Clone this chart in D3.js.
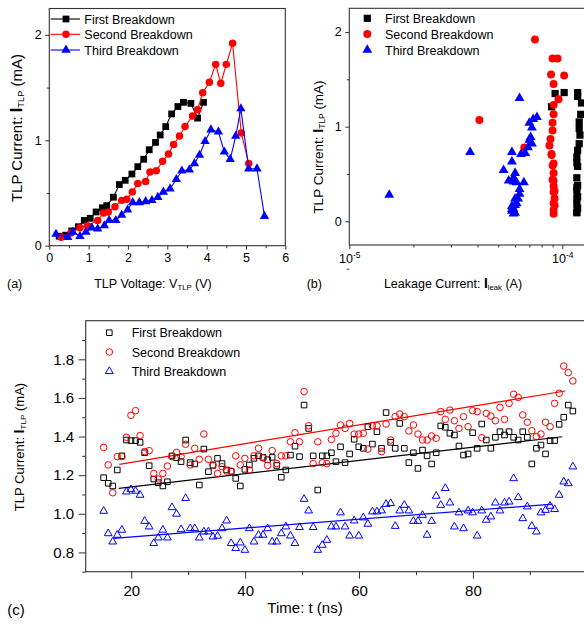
<!DOCTYPE html>
<html><head><meta charset="utf-8">
<script src="https://cdn.jsdelivr.net/npm/d3@7"></script>
<style>
body{margin:0;background:#fff}
svg{display:block}
text{font-family:Arial,"Liberation Sans",sans-serif;fill:#000}
</style></head>
<body><svg id="chart" width="584" height="624"></svg>
<script>
// ---------------- DATA ----------------
const seriesNames = ["First Breakdown", "Second Breakdown", "Third Breakdown"];
const seriesColors = ["#000000", "#ff0000", "#0000ff"];

// Panel (a): TLP I-V, Panel (b): leakage
const vFirst = [0.25,0.42,0.57,0.74,0.89,1.04,1.19,1.35,1.46,1.63,1.78,1.93,2.10,2.25,2.40,2.54,2.70,2.82,2.96,3.11,3.27,3.41,3.60,3.77,3.92];
const iFirst = [0.09,0.10,0.14,0.18,0.24,0.26,0.32,0.36,0.38,0.46,0.58,0.62,0.68,0.75,0.82,0.91,0.98,1.05,1.13,1.25,1.32,1.36,1.35,1.21,1.36];
const leakFirst = [1.17e-4,1.17e-4,1.18e-4,1.17e-4,1.17e-4,1.18e-4,1.17e-4,1.17e-4,1.18e-4,1.17e-4,1.18e-4,1.17e-4,1.17e-4,1.18e-4,1.20e-4,1.21e-4,1.20e-4,1.20e-4,1.22e-4,1.23e-4,1.18e-4,1.18e-4,9.25e-5,8.9e-5,1.02e-4];

const vSecond = [0.30,0.55,0.78,0.97,1.23,1.38,1.50,1.67,1.84,1.97,2.11,2.25,2.45,2.56,2.72,2.88,3.03,3.16,3.31,3.45,3.64,3.77,3.90,4.07,4.23,4.36,4.50,4.66,4.88,5.07];
const iSecond = [0.08,0.12,0.17,0.19,0.24,0.31,0.32,0.37,0.43,0.44,0.51,0.59,0.61,0.70,0.71,0.80,0.87,0.96,1.04,1.13,1.23,1.29,1.45,1.55,1.72,1.54,1.72,1.92,1.07,0.78];
const leakSecond = [9.1e-5,9.1e-5,9.2e-5,9.1e-5,9.2e-5,9.1e-5,9.2e-5,9.1e-5,9.1e-5,9.0e-5,9.1e-5,9.0e-5,9.1e-5,8.9e-5,8.9e-5,8.7e-5,8.8e-5,9.0e-5,9.0e-5,9.1e-5,9.1e-5,9.6e-5,9.1e-5,8.85e-5,9.0e-5,1.02e-4,9.5e-5,7.44e-5,4.08e-5,6.63e-5];

const vThird = [0.17,0.47,0.60,0.78,0.93,1.08,1.23,1.40,1.52,1.69,1.84,1.99,2.12,2.29,2.45,2.61,2.76,2.90,3.07,3.23,3.37,3.56,3.69,3.82,3.96,4.11,4.30,4.45,4.60,4.74,4.87,5.07,5.28,5.47];
const iThird = [0.11,0.08,0.13,0.09,0.13,0.17,0.16,0.19,0.24,0.24,0.29,0.34,0.41,0.41,0.42,0.43,0.46,0.51,0.54,0.63,0.71,0.72,0.78,0.86,0.99,1.10,1.08,0.89,0.82,1.04,1.30,0.73,0.73,0.28];
const leakThird = [5.8e-5,5.9e-5,5.8e-5,6.0e-5,5.9e-5,6.0e-5,5.8e-5,6.1e-5,6.2e-5,6.0e-5,6.3e-5,6.3e-5,6.6e-5,6.1e-5,5.9e-5,5.6e-5,5.9e-5,6.0e-5,5.3e-5,5.8e-5,6.4e-5,6.7e-5,6.9e-5,7.0e-5,7.2e-5,7.6e-5,7.3e-5,7.1e-5,7.2e-5,7.0e-5,6.3e-5,5.8e-5,3.69e-5,1.54e-5];

// Panel (c): TLP current versus time
const timeNs = [15.15,15.95,16.75,17.55,18.35,19.15,19.95,20.75,21.55,22.35,23.15,23.95,24.75,25.55,26.35,27.15,27.95,28.75,29.55,30.35,31.15,31.95,32.75,33.55,34.35,35.15,35.95,36.75,37.55,38.35,39.15,39.95,40.75,41.55,42.35,43.15,43.95,44.75,45.55,46.35,47.15,47.95,48.75,49.55,50.35,51.15,51.95,52.75,53.55,54.35,55.15,55.95,56.75,57.55,58.35,59.15,59.95,60.75,61.55,62.35,63.15,63.95,64.75,65.55,66.35,67.15,67.95,68.75,69.55,70.35,71.15,71.95,72.75,73.55,74.35,75.15,75.95,76.75,77.55,78.35,79.15,79.95,80.75,81.55,82.35,83.15,83.95,84.75,85.55,86.35,87.15,87.95,88.75,89.55,90.35,91.15,91.95,92.75,93.55,94.35,95.15,95.95,96.75,97.55];
const cFirst = [1.187,1.158,1.144,1.227,1.30,1.382,1.379,1.379,1.37,1.316,1.249,1.18,1.161,1.144,1.166,1.30,1.29,1.27,1.382,1.265,1.258,1.149,1.335,1.218,1.25,1.287,1.26,1.227,1.22,1.183,1.144,1.23,1.253,1.287,1.30,1.292,1.28,1.292,1.25,1.189,1.227,1.304,1.35,1.296,1.563,1.442,1.30,1.123,1.30,1.30,
  1.316,1.27,1.347,1.265,1.31,1.386,1.347,1.339,1.451,1.361,1.425,1.339,1.524,1.37,1.339,1.468,1.339,1.265,1.316,1.235,1.33,1.30,1.258,1.316,1.455,1.448,1.417,1.408,1.351,1.304,1.31,1.42,1.339,1.465,1.382,1.339,1.396,1.425,1.408,1.425,1.396,1.382,1.425,1.396,1.258,1.339,1.356,1.31,1.379,1.379,1.463,1.50,1.563,1.532];
const cSecond = [1.344,1.253,1.109,1.296,1.296,1.396,1.51,1.534,1.405,1.322,1.327,1.209,1.18,1.209,1.247,1.296,1.318,1.296,1.36,1.253,1.339,1.282,1.413,1.282,1.253,1.209,1.244,1.221,1.221,1.30,1.253,1.287,1.227,1.30,1.339,1.289,1.25,1.327,1.26,1.30,1.30,1.373,1.42,1.373,1.633,1.456,1.26,1.373,1.264,1.26,
  1.385,1.417,1.46,1.442,1.468,1.413,1.413,1.417,1.335,1.456,1.456,1.322,1.465,1.382,1.503,1.517,1.503,1.429,1.46,1.413,1.382,1.382,1.403,1.391,1.529,1.489,1.537,1.482,1.442,1.503,1.451,1.534,1.529,1.394,1.52,1.506,1.482,1.551,1.489,1.572,1.619,1.603,1.512,1.474,1.43,1.40,1.413,1.474,1.451,1.572,1.624,1.765,1.731,1.688];
const cThird = [1.014,0.898,0.855,0.89,0.916,1.114,1.126,1.118,1.097,0.962,0.933,0.847,0.876,0.916,0.876,1.033,0.999,0.919,1.08,0.924,0.924,0.876,0.907,0.907,0.881,0.885,0.924,0.964,0.847,0.821,0.85,0.812,0.924,0.855,0.89,0.89,0.924,0.855,0.855,0.898,0.933,0.886,0.847,0.93,1.076,1.016,0.93,0.812,0.838,0.864,
  0.933,0.933,1.006,0.933,0.886,0.964,0.886,0.98,0.947,1.011,1.011,1.016,1.05,1.054,0.936,1.016,1.045,1.016,0.962,0.962,0.993,0.89,0.962,1.092,1.045,1.132,1.057,0.933,1.006,0.924,1.016,1.006,0.886,1.016,0.968,0.985,1.057,1.016,1.057,1.062,1.183,1.085,0.976,1.037,0.936,0.907,1.006,1.019,1.04,1.023,1.097,1.166,1.157,1.244];
// linear fit end points [tStart, tEnd], [yStart, yEnd]
const fitT = [[17.8, 95.7], [17.9, 96.2], [16.9, 94.0]];
const fitY = [[1.132, 1.399], [1.256, 1.636], [0.873, 1.050]];

// tick values
const aXTicks = [0,1,2,3,4,5,6];
const aXMinor = [0.5,1.5,2.5,3.5,4.5,5.5];
const aYTicks = [0,1,2];
const aYMinor = [0.5,1.5];
const bXTicks = [1e-5, 1e-4];
const bXMinor = [2e-5,3e-5,4e-5,5e-5,6e-5,7e-5,8e-5,9e-5];
const bYTicks = [0,1,2];
const bYMinor = [-0.5,0.5,1.5];
const cXTicks = [20,40,60,80];
const cXMinor = [30,50,70,90];
const cYTicks = [0.8,1.0,1.2,1.4,1.6,1.8];
const cYMinor = [0.7,0.9,1.1,1.3,1.5,1.7,1.9];

// ---------------- DRAW ----------------
const svg = d3.select("#chart");
const AXC = "#333";

function styleAxis(g, fs) {
  g.select(".domain").remove();
  g.selectAll(".tick line").attr("stroke", AXC).attr("stroke-width", 1);
  g.selectAll(".tick text").attr("font-size", fs).attr("font-family", "Arial, 'Liberation Sans', sans-serif").attr("fill", "#000");
}
function frame(x0, y0, x1, y1) {
  svg.append("rect").attr("x", x0).attr("y", y0).attr("width", x1 - x0).attr("height", y1 - y0)
    .attr("fill", "none").attr("stroke", AXC).attr("stroke-width", 1.1);
}
function titleText(parent, parts, fs) {
  parts.forEach(([t, k]) => {
    const ts = parent.append("tspan").text(t);
    if (k === "b") ts.attr("font-weight", "bold").attr("font-size", fs * 1.1);
    if (k === "s") ts.attr("font-size", fs * 0.62).attr("baseline-shift", "-22%");
  });
}
const shapes = [d3.symbolSquare, d3.symbolCircle, d3.symbolTriangle];

// ===== Panel (a) =====
const ax = d3.scaleLinear().domain([0, 6]).range([49.3, 285.3]);
const ay = d3.scaleLinear().domain([0, 2.25]).range([245.7, 8.5]);
frame(ax.range()[0], ay.range()[1], ax.range()[1], ay.range()[0]);
styleAxis(svg.append("g").attr("transform", `translate(0,${ay(0)})`)
  .call(d3.axisBottom(ax).tickValues(aXTicks).tickSize(4).tickSizeOuter(0).tickPadding(3).tickFormat(d3.format("d"))), 12.5);
styleAxis(svg.append("g").attr("transform", `translate(0,${ay(0)})`)
  .call(d3.axisBottom(ax).tickValues(aXMinor).tickSize(2.5).tickSizeOuter(0).tickFormat("")), 12);
styleAxis(svg.append("g").attr("transform", `translate(${ax(0)},0)`)
  .call(d3.axisLeft(ay).tickValues(aYTicks).tickSize(4).tickSizeOuter(0).tickPadding(3.5).tickFormat(d3.format("d"))), 12.5);
styleAxis(svg.append("g").attr("transform", `translate(${ax(0)},0)`)
  .call(d3.axisLeft(ay).tickValues(aYMinor).tickSize(2.5).tickSizeOuter(0).tickFormat("")), 12);

const aSeries = [[vFirst, iFirst], [vSecond, iSecond], [vThird, iThird]];
const aSizes = [46, 44, 38];
aSeries.forEach(([vx, iy], k) => {
  const pts = vx.map((v, j) => [v, iy[j]]);
  svg.append("path").datum(pts)
    .attr("d", d3.line().x(d => ax(d[0])).y(d => ay(d[1])))
    .attr("fill", "none").attr("stroke", seriesColors[k]).attr("stroke-width", 1.1);
  svg.append("g").selectAll("path").data(pts).join("path")
    .attr("transform", d => `translate(${ax(d[0])},${ay(d[1])})`)
    .attr("d", d3.symbol(shapes[k], aSizes[k])).attr("fill", seriesColors[k]);
});
seriesNames.forEach((n, k) => {
  const y = [19, 34.3, 50][k];
  svg.append("line").attr("x1", 50.7).attr("x2", 80).attr("y1", y).attr("y2", y)
    .attr("stroke", seriesColors[k]).attr("stroke-width", 1.1);
  svg.append("path").attr("transform", `translate(66,${y})`).attr("d", d3.symbol(shapes[k], aSizes[k])).attr("fill", seriesColors[k]);
  svg.append("text").attr("x", 84.3).attr("y", y + 4.5).attr("font-size", 12.5).text(n);
});
titleText(svg.append("text").attr("x", 153).attr("y", 288).attr("text-anchor", "middle").attr("font-size", 12.5),
  [["TLP Voltage: V", "n"], ["TLP", "s"], [" (V)", "n"]], 12.5);
titleText(svg.append("text").attr("transform", "translate(21.5,128) rotate(-90)").attr("text-anchor", "middle").attr("font-size", 15),
  [["TLP Current: ", "n"], ["I", "b"], ["TLP", "s"], [" (mA)", "n"]], 15);
svg.append("text").attr("x", 7).attr("y", 288).attr("font-size", 12.5).text("(a)");

// ===== Panel (b) =====
const bx = d3.scaleLog().domain([1e-5, 1.3e-4]).range([349.3, 586.6]);
const by = d3.scaleLinear().domain([-0.25, 2.25]).range([245, 8.3]);
frame(bx.range()[0], by.range()[1], bx.range()[1], by.range()[0]);
const bxAxis = svg.append("g").attr("transform", `translate(0,${by(-0.25)})`)
  .call(d3.axisBottom(bx).tickValues(bXTicks).tickSize(4).tickSizeOuter(0).tickPadding(4).tickFormat(""));
styleAxis(bxAxis, 12);
bxAxis.selectAll(".tick").append("text").attr("y", 18).attr("text-anchor", "middle").attr("font-size", 12.5)
  .each(function (d) {
    const t = d3.select(this);
    t.append("tspan").text("10");
    t.append("tspan").text(Math.round(Math.log10(d))).attr("font-size", 8.5).attr("dy", -5);
  });
styleAxis(svg.append("g").attr("transform", `translate(0,${by(-0.25)})`)
  .call(d3.axisBottom(bx).tickValues(bXMinor).tickSize(2.5).tickSizeOuter(0).tickFormat("")), 12);
styleAxis(svg.append("g").attr("transform", `translate(${bx.range()[0]},0)`)
  .call(d3.axisLeft(by).tickValues(bYTicks).tickSize(4).tickSizeOuter(0).tickPadding(3.5).tickFormat(d3.format("d"))), 12.5);
styleAxis(svg.append("g").attr("transform", `translate(${bx.range()[0]},0)`)
  .call(d3.axisLeft(by).tickValues(bYMinor).tickSize(2.5).tickSizeOuter(0).tickFormat("")), 12);

const bSeries = [[leakFirst, iFirst], [leakSecond, iSecond], [leakThird, iThird]];
const bSizes = [52, 50, 42];
bSeries.forEach(([lx, iy], k) => {
  svg.append("g").selectAll("path").data(lx.map((l, j) => [l, iy[j]])).join("path")
    .attr("transform", d => `translate(${bx(d[0])},${by(d[1])})`)
    .attr("d", d3.symbol(shapes[k], bSizes[k])).attr("fill", seriesColors[k]);
});
seriesNames.forEach((n, k) => {
  const y = [18.3, 34, 50][k];
  svg.append("path").attr("transform", `translate(367.3,${y})`).attr("d", d3.symbol(shapes[k], bSizes[k])).attr("fill", seriesColors[k]);
  svg.append("text").attr("x", 385).attr("y", y + 4.5).attr("font-size", 12.5).text(n);
});
titleText(svg.append("text").attr("x", 453).attr("y", 288).attr("text-anchor", "middle").attr("font-size", 12.5),
  [["Leakage Current: ", "n"], ["I", "b"], ["leak", "s"], [" (A)", "n"]], 12.5);
titleText(svg.append("text").attr("transform", "translate(323,147) rotate(-90)").attr("text-anchor", "middle").attr("font-size", 13.5),
  [["TLP Current: ", "n"], ["I", "b"], ["TLP", "s"], [" (mA)", "n"]], 13.5);
svg.append("text").attr("x", 306.7).attr("y", 288).attr("font-size", 12.5).text("(b)");

// ===== Panel (c) =====
const cx = d3.scaleLinear().domain([12, 100]).range([85.7, 586.8]);
const cy = d3.scaleLinear().domain([0.7, 2.0]).range([571.7, 320.7]);
frame(cx.range()[0], cy.range()[1], cx.range()[1], cy.range()[0]);
styleAxis(svg.append("g").attr("transform", `translate(0,${cy(0.7)})`)
  .call(d3.axisBottom(cx).tickValues(cXTicks).tickSize(7).tickSizeOuter(0).tickPadding(7).tickFormat(d3.format("d"))), 15);
styleAxis(svg.append("g").attr("transform", `translate(0,${cy(0.7)})`)
  .call(d3.axisBottom(cx).tickValues(cXMinor).tickSize(3.5).tickSizeOuter(0).tickFormat("")), 15);
styleAxis(svg.append("g").attr("transform", `translate(${cx(12)},0)`)
  .call(d3.axisLeft(cy).tickValues(cYTicks).tickSize(7).tickSizeOuter(0).tickPadding(4.5).tickFormat(d3.format(".1f"))), 15);
styleAxis(svg.append("g").attr("transform", `translate(${cx(12)},0)`)
  .call(d3.axisLeft(cy).tickValues(cYMinor).tickSize(3.5).tickSizeOuter(0).tickFormat("")), 15);

const cSeries = [cFirst, cSecond, cThird];
const cSizes = [31, 34, 26];
cSeries.forEach((vals, k) => {
  svg.append("line")
    .attr("x1", cx(fitT[k][0])).attr("x2", cx(fitT[k][1]))
    .attr("y1", cy(fitY[k][0])).attr("y2", cy(fitY[k][1]))
    .attr("stroke", seriesColors[k]).attr("stroke-width", 1.2);
});
cSeries.forEach((vals, k) => {
  svg.append("g").selectAll("path").data(vals.map((v, j) => [timeNs[j], v])).join("path")
    .attr("transform", d => `translate(${cx(d[0])},${cy(d[1])})`)
    .attr("d", d3.symbol(shapes[k], cSizes[k])).attr("fill", "none")
    .attr("stroke", seriesColors[k]).attr("stroke-width", 1);
});
seriesNames.forEach((n, k) => {
  const y = [332.7, 352, 371.3][k];
  svg.append("path").attr("transform", `translate(109.3,${y})`).attr("d", d3.symbol(shapes[k], cSizes[k]))
    .attr("fill", "none").attr("stroke", seriesColors[k]).attr("stroke-width", 1);
  svg.append("text").attr("x", 131.7).attr("y", y + 4.5).attr("font-size", 12.5).text(n);
});
titleText(svg.append("text").attr("x", 305).attr("y", 612.7).attr("text-anchor", "middle").attr("font-size", 15),
  [["Time: t (ns)", "n"]], 15);
titleText(svg.append("text").attr("transform", "translate(24,447) rotate(-90)").attr("text-anchor", "middle").attr("font-size", 13),
  [["TLP Current: ", "n"], ["I", "b"], ["TLP", "s"], [" (mA)", "n"]], 13);
svg.append("text").attr("x", 7.3).attr("y", 615).attr("font-size", 15).text("(c)");
</script></body></html>
